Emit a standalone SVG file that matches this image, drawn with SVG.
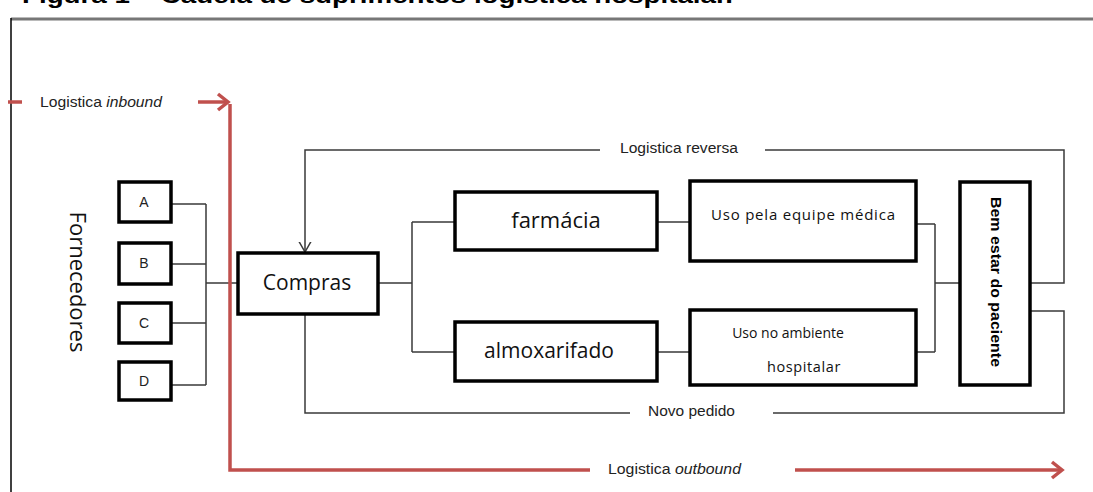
<svg xmlns="http://www.w3.org/2000/svg" width="1093" height="492" viewBox="0 0 1093 492">
<defs>
<style>
.box{fill:#fff;stroke:#000;stroke-width:3.5}
.conn{fill:none;stroke:#3a3a3a;stroke-width:1.5}
.red{fill:none;stroke:#c0504d;stroke-width:3.5}
.lbl{font-family:"Liberation Sans",Arial,sans-serif;font-size:14px;fill:#222}
.cal{font-family:"Open Sans","Liberation Sans",sans-serif;fill:#111}
.cal13{font-family:"Open Sans","Liberation Sans",sans-serif;font-size:13px;fill:#111}
</style>
<marker id="openV" markerWidth="20" markerHeight="20" viewBox="-10 -10 20 20" refX="0" refY="0" orient="auto" markerUnits="userSpaceOnUse">
<path d="M-14,-8 L0,0 L-14,8" fill="none" stroke="#3a3a3a" stroke-width="1.5"/>
</marker>
<marker id="redV" markerWidth="24" markerHeight="24" viewBox="-12 -12 24 24" refX="0" refY="0" orient="auto" markerUnits="userSpaceOnUse">
<path d="M-10,-8 L0,0 L-10,8" fill="none" stroke="#c0504d" stroke-width="3.5"/>
</marker>
</defs>
<rect width="1093" height="492" fill="#fff"/>
<text x="22" y="3" font-family="'Liberation Sans',Arial,sans-serif" font-weight="bold" font-size="22" textLength="711" lengthAdjust="spacingAndGlyphs" fill="#000">Figura 1 – Cadeia de suprimentos logística hospitalar.</text>
<g id="frame">
<line x1="11" y1="19" x2="1093" y2="19" stroke="#777" stroke-width="3"/>
<line x1="11" y1="18" x2="11" y2="492" stroke="#000" stroke-width="1.5"/>
</g>
<g id="connectors">
<path class="conn" d="M171,204 H206 M171,264 H206 M171,323 H206 M171,385 H206 M206,204 V385 M206,283 H238"/>
<path class="conn" d="M378,283 H412 M412,222 V352 M412,222 H455 M412,352 H455"/>
<path class="conn" d="M657,222 H690 M657,352 H690"/>
<path class="conn" d="M916,224 H935 M916,352 H935 M935,224 V352 M935,283 H960"/>
<path class="conn" d="M600,150 H305 V252" marker-end="url(#openV)"/>
<path class="conn" d="M765,150 H1064 V283 H1030"/>
<path class="conn" d="M1030,311 H1064 V413 H773"/>
<path class="conn" d="M630,413 H305 V314"/>
<path class="red" d="M8,102 H22"/>
<path class="red" d="M198,102 H228" marker-end="url(#redV)"/>
<path class="red" d="M230,104 V470 H590"/>
<path class="red" d="M795,470 H1062" marker-end="url(#redV)"/>
</g>
<g id="labels">
<text class="lbl" x="40" y="107" textLength="122" lengthAdjust="spacingAndGlyphs">Logistica <tspan font-style="italic">inbound</tspan></text>
<text class="lbl" x="620" y="153" textLength="118" lengthAdjust="spacingAndGlyphs">Logistica  reversa</text>
<text class="lbl" x="648" y="416" textLength="87" lengthAdjust="spacingAndGlyphs">Novo pedido</text>
<text class="lbl" x="608" y="474" textLength="133" lengthAdjust="spacingAndGlyphs">Logistica <tspan font-style="italic">outbound</tspan></text>
</g>
<g id="fornecedores">
<text class="cal" font-size="22" transform="translate(70,282) rotate(90)" text-anchor="middle">Fornecedores</text>
</g>
<g id="A"><rect class="box" x="119" y="182" width="52" height="40"/><text class="lbl" x="144" y="207" text-anchor="middle">A</text></g>
<g id="B"><rect class="box" x="119" y="243" width="52" height="41"/><text class="lbl" x="144" y="268" text-anchor="middle">B</text></g>
<g id="C"><rect class="box" x="119" y="303" width="52" height="40"/><text class="lbl" x="144" y="328" text-anchor="middle">C</text></g>
<g id="D"><rect class="box" x="119" y="362" width="52" height="38"/><text class="lbl" x="144" y="386" text-anchor="middle">D</text></g>
<g id="compras"><rect class="box" x="238" y="253" width="140" height="61"/><text class="cal" font-size="21" x="307" y="290" text-anchor="middle">Compras</text></g>
<g id="farmacia"><rect class="box" x="455" y="192" width="202" height="58"/><text class="cal" font-size="22" x="556" y="228" text-anchor="middle">farmácia</text></g>
<g id="almoxarifado"><rect class="box" x="455" y="322" width="202" height="59"/><text class="cal" font-size="21" x="549" y="358" text-anchor="middle">almoxarifado</text></g>
<g id="uso-equipe"><rect class="box" x="690" y="181" width="226" height="80"/><text class="cal13" style="font-size:15px" x="711" y="220" textLength="184" lengthAdjust="spacing">Uso pela equipe médica</text></g>
<g id="uso-ambiente"><rect class="box" x="690" y="310" width="226" height="75"/><text class="cal13" style="font-size:14px" x="788" y="338" text-anchor="middle">Uso no ambiente</text><text class="cal13" style="font-size:14.5px" x="804" y="372" text-anchor="middle" letter-spacing="0.6">hospitalar</text></g>
<g id="bem-estar"><rect class="box" x="960" y="182" width="70" height="203"/><text font-family="'Liberation Sans',Arial,sans-serif" font-weight="bold" font-size="15" fill="#000" transform="translate(991,282) rotate(90)" text-anchor="middle" textLength="170" lengthAdjust="spacingAndGlyphs">Bem estar do paciente</text></g>
</svg>
